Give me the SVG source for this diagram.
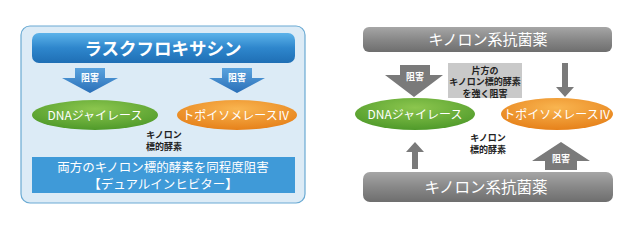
<svg xmlns="http://www.w3.org/2000/svg" width="640" height="240" viewBox="0 0 640 240">
<defs>
<linearGradient id="gBlue" x1="0" y1="0" x2="0" y2="1"><stop offset="0" stop-color="#5cb3ea"/><stop offset="0.5" stop-color="#2e86cc"/><stop offset="1" stop-color="#1f6fb5"/></linearGradient>
<linearGradient id="gGrey" x1="0" y1="0" x2="0" y2="1"><stop offset="0" stop-color="#a6a6a6"/><stop offset="0.5" stop-color="#888"/><stop offset="1" stop-color="#6e6e6e"/></linearGradient>
<radialGradient id="gGreen" cx="0.5" cy="0.3" r="0.7"><stop offset="0" stop-color="#8cc64e"/><stop offset="1" stop-color="#4f9a2a"/></radialGradient>
<radialGradient id="gOrange" cx="0.5" cy="0.3" r="0.7"><stop offset="0" stop-color="#f9b550"/><stop offset="1" stop-color="#e6811a"/></radialGradient>
<linearGradient id="gArrowBlue" x1="0" y1="0" x2="0" y2="1"><stop offset="0" stop-color="#5aa3de"/><stop offset="1" stop-color="#2a6fb8"/></linearGradient>
</defs>
<style>
text{font-family:"Noto Sans CJK JP","Noto Sans",sans-serif;text-anchor:middle}
.w{fill:#fff}
.b{fill:#222;font-weight:bold;font-size:9px}
.ell{font-size:12px;fill:#fff}
.ar{font-size:9px;fill:#fff;font-weight:bold}
</style>
<rect width="640" height="240" fill="#fff"/>
<g id="panel-left">
<rect x="21" y="26" width="284" height="177" rx="9" fill="#dcebf6" stroke="#6aaad3" stroke-width="1.2"/>
</g>
<g id="lascufloxacin">
<rect x="32" y="33" width="263" height="30" rx="7" fill="url(#gBlue)"/>
<text x="163" y="55" class="w" font-size="17.500" font-weight="bold">ラスクフロキサシン</text>
</g>
<g id="dna-left">
<ellipse cx="95" cy="115" rx="63" ry="15" fill="url(#gGreen)"/>
<text x="95" y="119.500" class="ell">DNAジャイレース</text>
</g>
<g id="topo-left">
<ellipse cx="237" cy="115" rx="60" ry="15" fill="url(#gOrange)"/>
<text x="236" y="119.500" class="ell" font-size="11.500">トポイソメレースⅣ</text>
</g>
<g id="label-left">
<text x="164" y="138" class="b">キノロン</text>
<text x="164" y="150" class="b">標的酵素</text>
</g>
<g id="dual">
<rect x="32" y="157" width="263" height="36" fill="#3f9ad8"/>
<text x="163" y="171.500" class="w" font-size="12.500">両方のキノロン標的酵素を同程度阻害</text>
<text x="163" y="189" class="w" font-size="12.500">【デュアルインヒビター】</text>
</g>
<g id="panel-right-top">
<rect x="363" y="27" width="249" height="25" rx="6" fill="url(#gGrey)"/>
<text x="488" y="45" class="w" font-size="15">キノロン系抗菌薬</text>
</g>
<g id="note-right">
<rect x="448" y="63" width="74" height="35" fill="#c9c9c9"/>
<text x="485" y="73.500" class="b">片方の</text>
<text x="485" y="85" class="b">キノロン標的酵素</text>
<text x="485" y="96.500" class="b">を強く阻害</text>
</g>
<g id="dna-right">
<ellipse cx="415" cy="114" rx="60" ry="16" fill="url(#gGreen)"/>
<text x="415" y="118.500" class="ell">DNAジャイレース</text>
</g>
<g id="topo-right">
<ellipse cx="557" cy="114" rx="56" ry="16" fill="url(#gOrange)"/>
<text x="557" y="118.500" class="ell" font-size="11">トポイソメレースⅣ</text>
</g>
<g id="label-right">
<text x="488" y="141" class="b">キノロン</text>
<text x="488" y="153" class="b">標的酵素</text>
</g>
<g id="panel-right-bottom">
<rect x="363" y="172" width="250" height="30" rx="7" fill="url(#gGrey)"/>
<text x="486" y="193" class="w" font-size="15.500">キノロン系抗菌薬</text>
</g>
<g id="connectors">
<polygon points="75,68 105,68 105,78 118,78 90,93 62,78 75,78" fill="url(#gArrowBlue)"/>
<text x="90" y="81" class="ar">阻害</text>
<polygon points="222,68 252,68 252,78 265,78 237,93 209,78 222,78" fill="url(#gArrowBlue)"/>
<text x="237" y="81" class="ar">阻害</text>
<polygon points="400,65 430,65 430,75 443,75 414,97 385,75 400,75" fill="#7a7a7a"/>
<text x="415" y="80" class="ar">阻害</text>
<polygon points="562,63 568,63 568,87 574,87 565,97 556,87 562,87" fill="#7a7a7a"/>
<polygon points="415,142 424,152 418,152 418,169 412,169 412,152 406,152" fill="#7a7a7a"/>
<polygon points="561,142 590,161 577,161 577,170 545,170 545,161 532,161" fill="#7a7a7a"/>
<text x="561" y="162" class="ar">阻害</text>
</g>
</svg>
